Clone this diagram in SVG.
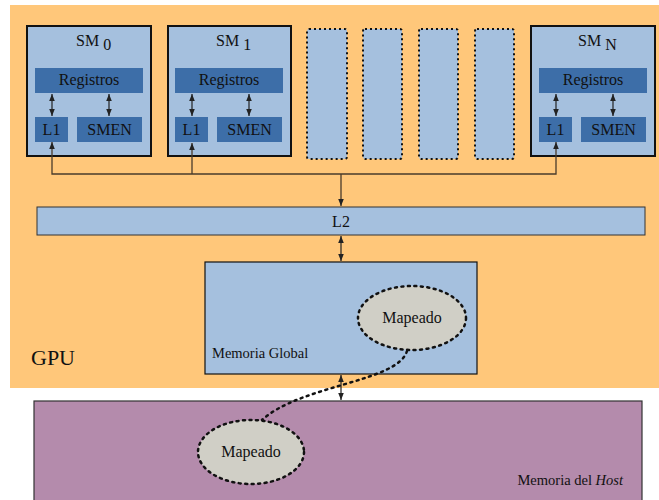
<svg xmlns="http://www.w3.org/2000/svg" width="659" height="500" viewBox="0 0 659 500" font-family="'Liberation Serif', 'Times New Roman', serif">
<defs>
<marker id="ah" viewBox="0 0 10 10" refX="10" refY="5" markerWidth="7" markerHeight="7" markerUnits="userSpaceOnUse" orient="auto-start-reverse">
<path d="M0,1 L10,5 L0,9 Z" fill="#222"/>
</marker>
<style>
text{font-family:'Liberation Serif','Times New Roman',serif;fill:#111}
.sm{fill:#a5c0de;stroke:#111;stroke-width:2}
.dot{fill:#a5c0de;stroke:#111;stroke-width:2;stroke-dasharray:2 3}
.bar{fill:#3d6ea8}
.lbl{font-size:16px;text-anchor:middle}
.ar{stroke:#222;stroke-width:1.2;fill:none;marker-start:url(#ah);marker-end:url(#ah)}
.bus{stroke:#4a3c2c;stroke-width:1.3;fill:none}
.ell{fill:#d0cfc6;stroke:#111;stroke-width:2.5;stroke-dasharray:2 4.5;stroke-linecap:round}
</style>
</defs>
<rect id="gpu" x="10" y="5" width="649" height="383" fill="#ffc77a"/>
<text x="31" y="365" font-size="22">GPU</text>

<g id="sm0">
<rect class="sm" x="27" y="26" width="124" height="130"/>
<text x="76" y="46" font-size="16">SM <tspan dy="4" font-size="16">0</tspan></text>
<rect class="bar" x="35" y="68" width="108" height="25"/>
<text class="lbl" x="89" y="85">Registros</text>
<rect class="bar" x="35" y="117" width="33" height="25"/>
<text class="lbl" x="51.5" y="135">L1</text>
<rect class="bar" x="77" y="117" width="65" height="25"/>
<text class="lbl" x="109.5" y="135">SMEN</text>
<line class="ar" x1="52" y1="94" x2="52" y2="116"/>
<line class="ar" x1="109" y1="94" x2="109" y2="116"/>
</g>

<g id="sm1">
<rect class="sm" x="168" y="26" width="123" height="130"/>
<text x="216" y="46" font-size="16">SM <tspan dy="4" font-size="16">1</tspan></text>
<rect class="bar" x="175" y="68" width="108" height="25"/>
<text class="lbl" x="229" y="85">Registros</text>
<rect class="bar" x="175" y="117" width="33" height="25"/>
<text class="lbl" x="191.5" y="135">L1</text>
<rect class="bar" x="217" y="117" width="65" height="25"/>
<text class="lbl" x="249.5" y="135">SMEN</text>
<line class="ar" x1="192" y1="94" x2="192" y2="116"/>
<line class="ar" x1="249" y1="94" x2="249" y2="116"/>
</g>

<g id="placeholders">
<rect class="dot" x="307" y="29" width="40" height="130" rx="2"/>
<rect class="dot" x="363" y="29" width="39" height="130" rx="2"/>
<rect class="dot" x="419" y="29" width="39" height="130" rx="2"/>
<rect class="dot" x="475" y="29" width="39" height="130" rx="2"/>
</g>

<g id="smN">
<rect class="sm" x="531" y="26" width="124" height="130"/>
<text x="578" y="46" font-size="16">SM <tspan dy="4" font-size="16">N</tspan></text>
<rect class="bar" x="539" y="68" width="108" height="25"/>
<text class="lbl" x="593" y="85">Registros</text>
<rect class="bar" x="539" y="117" width="33" height="25"/>
<text class="lbl" x="555.5" y="135">L1</text>
<rect class="bar" x="581" y="117" width="65" height="25"/>
<text class="lbl" x="613.5" y="135">SMEN</text>
<line class="ar" x1="556" y1="94" x2="556" y2="116"/>
<line class="ar" x1="613" y1="94" x2="613" y2="116"/>
</g>

<g id="l2">
<rect x="37" y="207" width="608" height="28" fill="#a5c0de" stroke="#333" stroke-width="1"/>
<text class="lbl" x="341" y="227">L2</text>
</g>

<g id="memglobal">
<rect x="205" y="262" width="272" height="112" fill="#a5c0de" stroke="#111" stroke-width="1.2"/>
<text x="212" y="358" font-size="14.5">Memoria Global</text>
</g>
<g id="mapeado1">
<ellipse class="ell" cx="412" cy="318" rx="54" ry="32"/>
<text class="lbl" x="412" y="323">Mapeado</text>
</g>

<g id="host">
<rect x="34" y="401" width="608" height="110" fill="#b48bac" stroke="#333" stroke-width="1.2"/>
<text x="623" y="485" font-size="14.5" text-anchor="end">Memoria del <tspan font-style="italic">Host</tspan></text>
</g>
<g id="mapeado2">
<ellipse class="ell" cx="251" cy="452" rx="53" ry="32"/>
<text class="lbl" x="251" y="457">Mapeado</text>
</g>

<g id="connectors">
<polyline class="bus" points="52,142 52,174 556,174 556,142" marker-start="url(#ah)" marker-end="url(#ah)"/>
<line class="bus" x1="192" y1="174" x2="192" y2="143" marker-end="url(#ah)"/>
<line class="bus" x1="341" y1="174" x2="341" y2="206" marker-end="url(#ah)"/>
<line class="ar" x1="341" y1="236" x2="341" y2="261"/>
<line class="ar" x1="341" y1="375" x2="341" y2="400"/>
<path d="M407,351 C398,382 300,385 262,420" fill="none" stroke="#111" stroke-width="2.5" stroke-dasharray="2 4.5" stroke-linecap="round"/>
</g>
</svg>
